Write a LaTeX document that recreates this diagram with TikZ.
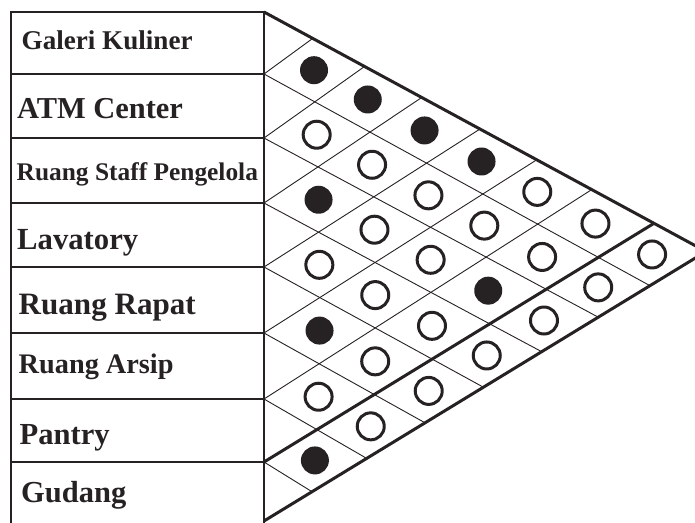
\documentclass[tikz,border=0pt]{standalone}
\usepackage{fontspec}
\setmainfont{Liberation Serif}
\usetikzlibrary{calc}
\definecolor{ink}{RGB}{38,33,34}
\begin{document}
\begin{tikzpicture}[x=1pt,y=-1pt,
  tbl/.style={line width=2.4pt, draw=ink},
  border/.style={line width=3pt, draw=ink, line join=miter},
  gridln/.style={line width=0.9pt, draw=ink},
  lbl/.style={anchor=base west, inner sep=0pt, text=ink, font=\bfseries\fontsize{#1}{#1}\selectfont},
  full/.style={circle, fill=ink, minimum size=28pt, inner sep=0pt},
  empty/.style={circle, draw=ink, line width=3pt, fill=white, minimum size=27pt, inner sep=0pt}]
\useasboundingbox (0,0) rectangle (695,522);
\begin{scope}
\clip (0,0) rectangle (695,522);
% row boundaries on the table's right edge
\coordinate (L0) at (264,12);
\coordinate (L1) at (264,74);
\coordinate (L2) at (264,138);
\coordinate (L3) at (264,203);
\coordinate (L4) at (264,267);
\coordinate (L5) at (264,333);
\coordinate (L6) at (264,399);
\coordinate (L7) at (264,462);
\coordinate (L8) at (264,521);
\coordinate (Q) at (706,251.5);
% ends of the up-going lines on the top border
\coordinate (T1) at (312.7,38.4);
\coordinate (T2) at (364.5,66.5);
\coordinate (T3) at (421.7,97.5);
\coordinate (T4) at (480,129.0);
\coordinate (T5) at (536.7,159.8);
\coordinate (T6) at (591.7,189.6);
\coordinate (T7) at (654,223.3);
% ends of the down-going lines on the bottom border
\coordinate (E1) at (650,285.7);
\coordinate (E2) at (598.3,317.2);
\coordinate (E3) at (541.7,351.7);
\coordinate (E4) at (483.4,387.2);
\coordinate (E5) at (425,422.8);
\coordinate (E6) at (366.7,458.4);
\coordinate (E7) at (312,491.7);
% line families
\coordinate (a0s) at (L0); \coordinate (a0e) at (Q);
\foreach \i in {1,...,7}{
  \coordinate (a\i s) at (L\i); \coordinate (a\i e) at (E\i);
  \coordinate (b\i s) at (L\i); \coordinate (b\i e) at (T\i);
}
\coordinate (b8s) at (L8); \coordinate (b8e) at (Q);
% table
\draw[tbl] (11,540) -- (11,12) -- (264,12) -- (264,540);
\foreach \i in {1,...,7}{ \draw[tbl] (11,0 |- L\i) -- (L\i); }
% grid
\foreach \i in {1,...,7}{ \draw[gridln] (L\i) -- (E\i); }
\foreach \i in {1,...,6}{ \draw[gridln] (L\i) -- (T\i); }
\draw[border] (L7) -- (T7);
\draw[border] (L0) -- (Q) -- (L8);
% circles
\foreach \r/\s/\k in {1/2/full,1/3/full,1/4/full,1/5/full,1/6/empty,1/7/empty,1/8/empty,
  2/3/empty,2/4/empty,2/5/empty,2/6/empty,2/7/empty,2/8/empty,
  3/4/full,3/5/empty,3/6/empty,3/7/full,3/8/empty,
  4/5/empty,4/6/empty,4/7/empty,4/8/empty,
  5/6/full,5/7/empty,5/8/empty,
  6/7/empty,6/8/empty,
  7/8/full}{
  \pgfmathtruncatemacro\rmo{\r-1}
  \pgfmathtruncatemacro\smo{\s-1}
  \coordinate (p1) at (intersection of a\rmo s--a\rmo e and b\smo s--b\smo e);
  \coordinate (p2) at (intersection of a\rmo s--a\rmo e and b\s s--b\s e);
  \coordinate (p3) at (intersection of a\r s--a\r e and b\smo s--b\smo e);
  \coordinate (p4) at (intersection of a\r s--a\r e and b\s s--b\s e);
  \node[\k] (c\r-\s) at ($0.25*(p1)+0.25*(p2)+0.25*(p3)+0.25*(p4)$) {};
}
\end{scope}
% labels
\node[lbl=27.1] (galeri) at (21.5,49.3) {Galeri Kuliner};
\node[lbl=30.4] (atm) at (17,118.3) {ATM Center};
\node[lbl=25.4] (staff) at (16.5,180) {Ruang Staff Pengelola};
\node[lbl=30.7] (lav) at (17,249) {Lavatory};
\node[lbl=31.1] (rapat) at (18.5,314.3) {Ruang Rapat};
\node[lbl=28.3] (arsip) at (18.5,373.3) {Ruang Arsip};
\node[lbl=30.6] (pantry) at (19.5,444.3) {Pantry};
\node[lbl=30.5] (gudang) at (21,502.7) {Gudang};
\end{tikzpicture}
\end{document}
